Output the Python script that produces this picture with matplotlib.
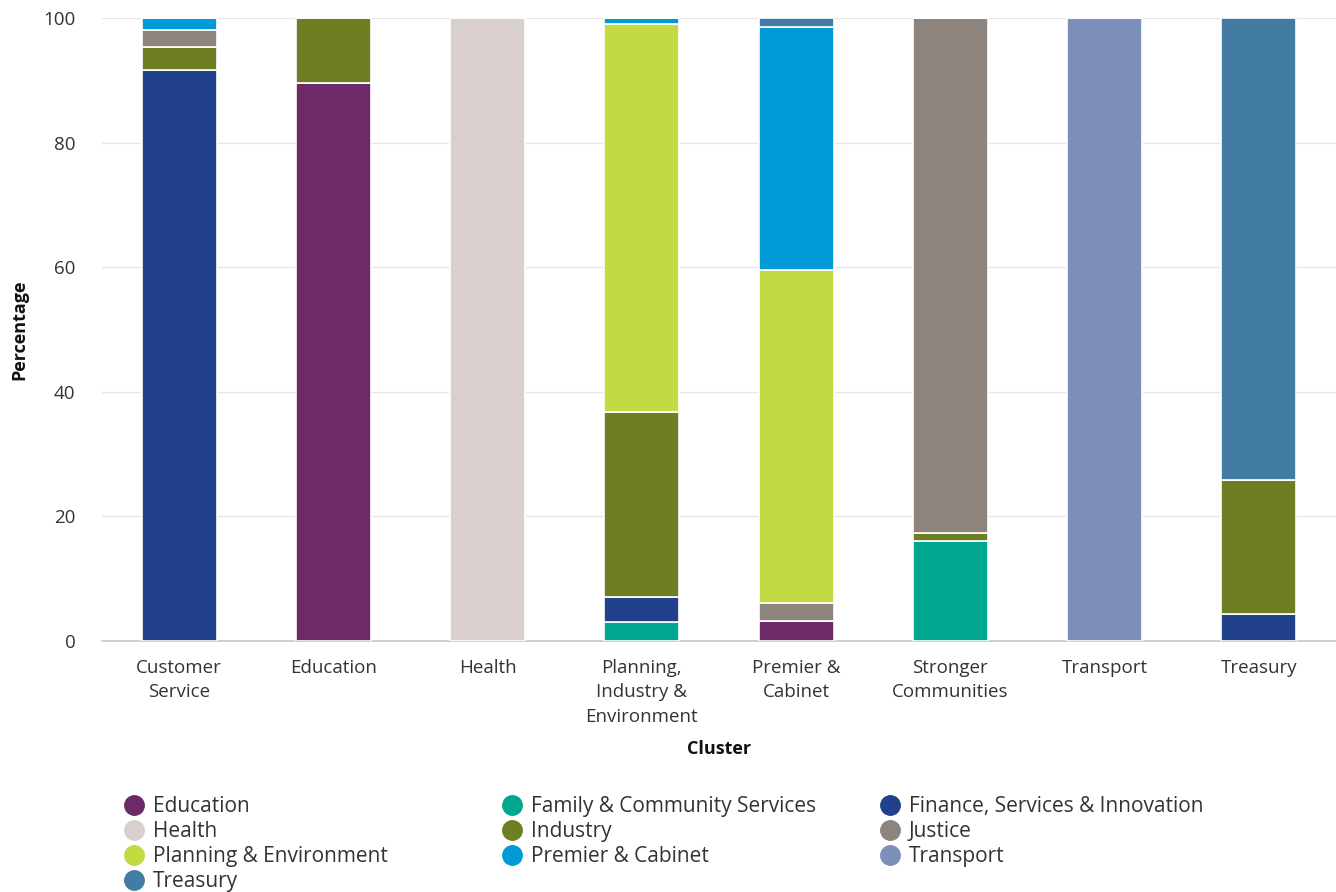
import numpy as np
import matplotlib
matplotlib.use("Agg")
import matplotlib.pyplot as plt
from matplotlib.lines import Line2D

plt.rcParams['font.family'] = ['Open Sans', 'DejaVu Sans']

clusters = ["Customer\nService", "Education", "Health", "Planning,\nIndustry &\nEnvironment",
            "Premier &\nCabinet", "Stronger\nCommunities", "Transport", "Treasury"]

# percentage of each cluster by agency (stacked bottom to top)
education = [0, 89.6, 0, 0, 3.2, 0, 0, 0]
family = [0, 0, 0, 3.0, 0, 16.1, 0, 0]
finance = [91.7, 0, 0, 4.1, 0, 0, 0, 4.3]
health = [0, 0, 100, 0, 0, 0, 0, 0]
industry = [3.7, 10.4, 0, 29.6, 0, 1.3, 0, 21.5]
justice = [2.6, 0, 0, 0, 2.9, 82.6, 0, 0]
planning = [0, 0, 0, 62.3, 53.5, 0, 0, 0]
premier = [2.0, 0, 0, 1.0, 39.0, 0, 0, 0]
transport = [0, 0, 0, 0, 0, 0, 100, 0]
treasury = [0, 0, 0, 0, 1.4, 0, 0, 74.2]

series = [
    ("Education", education, "#6d2a68"),
    ("Family & Community Services", family, "#00a78e"),
    ("Finance, Services & Innovation", finance, "#22418c"),
    ("Health", health, "#d9d0cd"),
    ("Industry", industry, "#6e7f23"),
    ("Justice", justice, "#8c847d"),
    ("Planning & Environment", planning, "#c4da42"),
    ("Premier & Cabinet", premier, "#009bd6"),
    ("Transport", transport, "#7b8fb9"),
    ("Treasury", treasury, "#437ca2"),
]

fig = plt.figure(figsize=(13.36, 8.92), dpi=100)
ax = fig.add_axes([0.0763, 0.2814, 0.9237, 0.6984])

x = np.arange(len(clusters))
bottom = np.zeros(len(clusters))
for name, vals, col in series:
    vals = np.array(vals, dtype=float)
    ax.bar(x, vals, 0.487, bottom=bottom, color=col, edgecolor="white", linewidth=1.2, zorder=3)
    bottom += vals

ax.set_xlim(-0.5, 7.5)
ax.set_ylim(0, 100)
ax.set_yticks([0, 20, 40, 60, 80, 100])
ax.grid(axis="y", color="#e6e6e6", linewidth=1, zorder=0)
for s in ["left", "right", "top"]:
    ax.spines[s].set_visible(False)
ax.spines["bottom"].set_color("#c8c8c8")
ax.spines["bottom"].set_linewidth(1.2)
ax.tick_params(axis="both", length=0, labelsize=13.5, colors="#333333")
ax.tick_params(axis="y", pad=19)
ax.tick_params(axis="x", pad=13)
ax.set_xticks(x)
ax.set_xticklabels(clusters, linespacing=1.45)
ax.set_ylabel("Percentage", fontsize=13, fontweight="bold", color="#111111", labelpad=11)
ax.set_xlabel("Cluster", fontsize=13, fontweight="bold", color="#111111", labelpad=10)

# legend laid out in three fixed columns, filled row by row
cols_x = [0.083, 0.366, 0.649]
for c in range(3):
    items = series[c::3]
    handles = [Line2D([], [], marker="o", linestyle="", markersize=14,
                      markerfacecolor=col, markeredgecolor=col) for _, _, col in items]
    labels = [name for name, _, _ in items]
    fig.legend(handles, labels, loc="upper left", bbox_to_anchor=(cols_x[c], 0.117),
               frameon=False, fontsize=15, handletextpad=0.2, labelspacing=0.2,
               borderaxespad=0, handlelength=1.4, labelcolor="#333333")

fig.savefig("out.png", dpi=100)
